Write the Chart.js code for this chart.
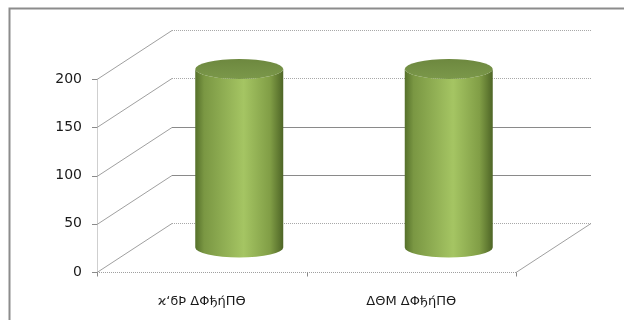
<!DOCTYPE html>
<html>
<head>
<meta charset="utf-8">
<script src="https://cdn.jsdelivr.net/npm/chart.js@4/dist/chart.umd.min.js"></script>
<style>
  html, body { margin: 0; padding: 0; background: #fff; }
  #wrap { width: 624px; height: 320px; position: relative; }
</style>
</head>
<body>
<div id="wrap"><canvas id="chart"></canvas></div>
<script>
// Data
const categories = ["ϰ‘ϭÞ ΔΦђήΠϴ", "ΔΘМ ΔΦђήΠϴ"];
const values = [185, 185];
const yTicks = [0, 50, 100, 150, 200];

// 3D depth offset of the back wall
const depth = { dx: 75, dy: -49 };

Chart.defaults.font.family = "DejaVu Sans";
Chart.defaults.font.size = 13;
Chart.defaults.color = "#1a1a1a";

// Walls, gridlines and cylinders
const cylinderPlugin = {
  id: "cylinders",
  beforeDraw(chart) {
    const ctx = chart.ctx;
    ctx.save();
    ctx.fillStyle = "#fff";
    ctx.fillRect(0, 0, chart.width, chart.height);
    ctx.strokeStyle = "#8c8c8c";
    ctx.lineWidth = 2;
    ctx.beginPath();
    ctx.moveTo(9.5, chart.height);
    ctx.lineTo(9.5, 8.5);
    ctx.lineTo(chart.width, 8.5);
    ctx.stroke();
    ctx.restore();
  },
  beforeDatasetsDraw(chart) {
    const { ctx, chartArea: a, scales: { x, y } } = chart;
    const line = (x1, y1, x2, y2, color, dash) => {
      ctx.strokeStyle = color;
      ctx.setLineDash(dash || []);
      ctx.beginPath();
      ctx.moveTo(x1, y1);
      ctx.lineTo(x2, y2);
      ctx.stroke();
    };
    ctx.save();
    ctx.lineWidth = 1;
    yTicks.forEach((t) => {
      const yy = Math.round(y.getPixelForValue(t)) + 0.5;
      const solid = t === 50 || t === 100;
      // back wall gridline
      line(a.left + depth.dx, yy + depth.dy, a.right + depth.dx, yy + depth.dy,
        solid ? "#8a8a8a" : "#a8a8a8", solid ? [] : [1, 1]);
      // left wall diagonal
      line(a.left, yy, a.left + depth.dx, yy + depth.dy, "#a0a0a0");
      // tick mark
      line(a.left - 5, yy, a.left, yy, "#8a8a8a");
    });
    const y0 = Math.round(y.getPixelForValue(0)) + 0.5;
    const yTop = Math.round(y.getPixelForValue(200)) + 0.5;
    line(a.left + 0.5, yTop, a.left + 0.5, y0, "#a0a0a0", [1, 1]);
    line(a.left, y0, a.right, y0, "#a0a0a0", [1, 1]);
    line(a.right, y0, a.right + depth.dx, y0 + depth.dy, "#a0a0a0");
    // category tick marks
    [x.left, (x.left + x.right) / 2, x.right].forEach((px) => {
      const xx = Math.round(px) + 0.5;
      line(xx, y0, xx, y0 + 4, "#8a8a8a");
    });
    ctx.restore();
  },
  afterDatasetsDraw(chart) {
    const ctx = chart.ctx;
    const meta = chart.getDatasetMeta(0);
    ctx.save();
    meta.data.forEach((bar) => {
      const cx = bar.x + depth.dx / 2;
      const rx = bar.width / 2;
      const ry = 10;
      const top = bar.y + depth.dy / 2;
      const bot = bar.base + depth.dy / 2;

      const grad = ctx.createLinearGradient(cx - rx, 0, cx + rx, 0);
      grad.addColorStop(0, "#55702a");
      grad.addColorStop(0.1, "#7a9743");
      grad.addColorStop(0.55, "#a5c563");
      grad.addColorStop(0.85, "#819e46");
      grad.addColorStop(1, "#4e6526");

      ctx.beginPath();
      ctx.moveTo(cx - rx, top);
      ctx.lineTo(cx - rx, bot);
      ctx.ellipse(cx, bot, rx, ry, 0, Math.PI, 0, true);
      ctx.lineTo(cx + rx, top);
      ctx.ellipse(cx, top, rx, ry, 0, 0, Math.PI, false);
      ctx.closePath();
      ctx.fillStyle = grad;
      ctx.fill();

      const capGrad = ctx.createLinearGradient(0, top - ry, 0, top + ry);
      capGrad.addColorStop(0, "#6d883f");
      capGrad.addColorStop(1, "#7b984a");
      ctx.beginPath();
      ctx.ellipse(cx, top, rx, ry, 0, 0, Math.PI * 2);
      ctx.fillStyle = capGrad;
      ctx.fill();
    });
    ctx.restore();
  },
};

new Chart(document.getElementById("chart"), {
  type: "bar",
  data: {
    labels: categories,
    datasets: [
      {
        data: values,
        backgroundColor: "rgba(0,0,0,0)",
        borderWidth: 0,
        barPercentage: 0.42,
        categoryPercentage: 1,
      },
    ],
  },
  options: {
    responsive: true,
    maintainAspectRatio: false,
    animation: false,
    layout: {
      padding: { top: 79, right: 108, left: 0, bottom: 0 },
    },
    plugins: {
      legend: { display: false },
      tooltip: { enabled: false },
    },
    scales: {
      y: {
        min: 0,
        max: 200,
        border: { display: false },
        grid: { display: false },
        ticks: { stepSize: 50, padding: 7, font: { size: 14 } },
        afterFit(scale) {
          scale.width = 97;
        },
      },
      x: {
        border: { display: false },
        grid: { display: false },
        ticks: { padding: 14, maxRotation: 0 },
        afterFit(scale) {
          scale.height = 48;
        },
      },
    },
  },
  plugins: [cylinderPlugin],
});
</script>
</body>
</html>
